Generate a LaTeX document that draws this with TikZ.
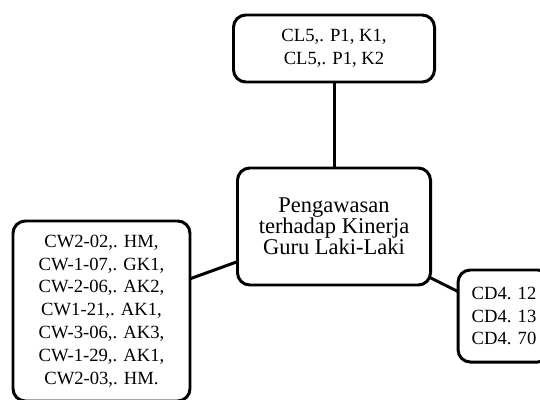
\documentclass[tikz,border=0pt]{standalone}
\usepackage{fontspec}
\setmainfont{Liberation Serif}
\begin{document}
\begin{tikzpicture}[x=0.02cm,y=-0.02cm,inner sep=0pt,outer sep=0pt,line width=1.7pt,
codebox/.style={draw,rectangle,rounded corners=7pt,align=center,line width=1.7pt,
  font=\fontsize{10.6}{13}\selectfont}]
\clip (0,0) rectangle (540,399);
\draw (334,48.5) node[codebox,minimum width=201*0.02cm,minimum height=67*0.02cm] (top) {CL5,. P1, K1,\\CL5,. P1, K2};
\draw (334,226.5) node[codebox,minimum width=193*0.02cm,minimum height=117*0.02cm,
  font=\fontsize{12.8}{12}\selectfont] (ctr) {Pengawasan\\terhadap Kinerja\\Guru Laki-Laki};
\draw (101.5,311) node[codebox,minimum width=177*0.02cm,minimum height=180*0.02cm] (cw) {CW2-02,. HM,\\CW-1-07,. GK1,\\CW-2-06,. AK2,\\CW1-21,. AK1,\\CW-3-06,. AK3,\\CW-1-29,. AK1,\\CW2-03,. HM.};
\draw (504,316) node[codebox,minimum width=92*0.02cm,minimum height=92*0.02cm] (cd) {CD4. 12\\CD4. 13\\CD4. 70};
\draw (top) -- (ctr);
\draw (cw.20) -- (ctr.200);
\draw (ctr.-28) -- (cd.152);
\end{tikzpicture}
\end{document}
